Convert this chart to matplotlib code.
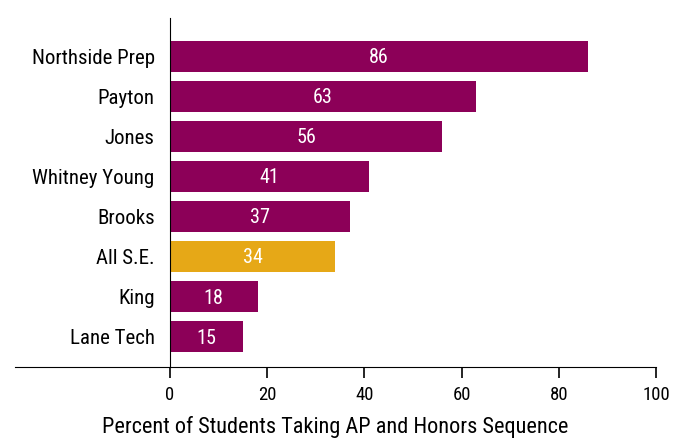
import matplotlib.pyplot as plt

schools = ["Lane Tech", "King", "All S.E.", "Brooks", "Whitney Young", "Jones", "Payton", "Northside Prep"]
percents = [15, 18, 34, 37, 41, 56, 63, 86]
highlight = "All S.E."

plt.rcParams['font.family'] = ['Roboto Condensed', 'DejaVu Sans']

maroon = '#8C0058'
gold = '#E6A817'
colors = [gold if s == highlight else maroon for s in schools]

fig = plt.figure(figsize=(6.8, 4.38), dpi=100)
ax = fig.add_axes([15/680, 1-367/438, (656-15)/680, (367-18)/438])

y = range(len(schools))
ax.barh(y, percents, height=0.77, color=colors)
for i, v in enumerate(percents):
    ax.text(v/2, i - 0.03, str(v), ha='center', va='center', color='white', fontsize=14.5)

ax.set_xlim(-31.9, 100)
ax.set_ylim(-0.75, 7.95)
ax.spines['left'].set_position(('data', 0))
ax.spines['right'].set_visible(False)
ax.spines['top'].set_visible(False)
ax.set_xticks([0, 20, 40, 60, 80, 100])
ax.tick_params(axis='x', length=8, width=1.2, labelsize=13.5, pad=6)
ax.tick_params(axis='y', length=0, labelsize=15, pad=11)
ax.set_yticks(list(y))
ax.set_yticklabels(schools)
ax.set_xlabel("Percent of Students Taking AP and Honors Sequence", fontsize=16)
ax.xaxis.set_label_coords((335 - 15) / 641, -0.172)
ax.xaxis.label.set_va('center')

fig.savefig("out.png", dpi=100)
